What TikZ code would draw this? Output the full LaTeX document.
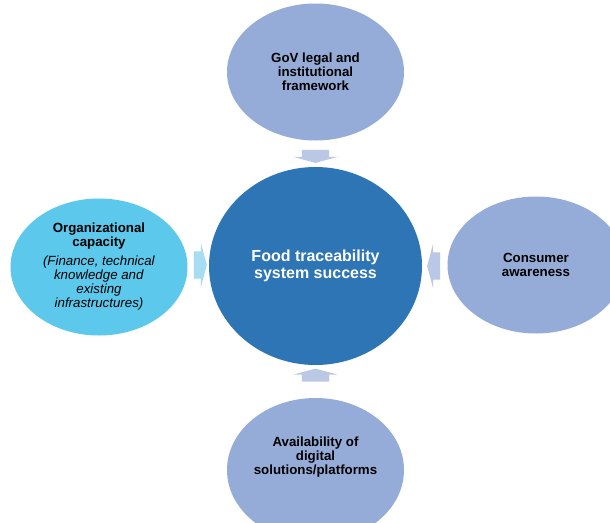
\documentclass[tikz,border=0pt]{standalone}
\usepackage{fontspec}
\setmainfont{Liberation Sans}
\usetikzlibrary{shapes.geometric,shapes.arrows}

\definecolor{coreblue}{HTML}{2E75B6}
\definecolor{outerblue}{HTML}{95ACD8}
\definecolor{orgcyan}{HTML}{5BC8EC}
\definecolor{arrowblue}{HTML}{BAC7E5}
\definecolor{arrowcyan}{HTML}{A6DDF2}

\newcommand{\orgnote}[1]{\textmd{\textit{#1}}}

\begin{document}
\begin{tikzpicture}[x=1pt,y=-1pt]
    \tikzset{
      OuterStyle/.style = { ellipse, fill = outerblue, inner sep = 0pt,
                  minimum width = 177pt, minimum height = 137pt,
                  align = center, font = \bfseries\fontsize{13.3}{14}\selectfont },
      CoreStyle/.style = { ellipse, fill = coreblue, inner sep = 0pt,
                  minimum width = 213pt, minimum height = 198pt,
                  align = center, text = white,
                  font = \bfseries\fontsize{16}{16.7}\selectfont },
      ArrowStyle/.style = { single arrow, fill = arrowblue, inner xsep = 0pt,
                  inner ysep = 13.5pt, minimum height = 13pt,
                  single arrow head extend = 8.5pt, single arrow tip angle = 150,
                  single arrow head indent = 0pt } }
      \clip (0,0) rectangle (610,522);
      \fill[white] (0,0) rectangle (610,522);

      \node[CoreStyle] (core) at (315.5,266) {Food traceability\\system success};

      \node[OuterStyle] (gov) at (315.5,72) {GoV legal and\\institutional\\framework};
      \node[OuterStyle] (consumer) at (536,265) {Consumer\\awareness};
      \node[OuterStyle, fill = orgcyan] (org) at (99,267)
        {Organizational\\capacity\\[5pt]
         \orgnote{(Finance, technical}\\\orgnote{knowledge and}\\
         \orgnote{existing}\\\orgnote{infrastructures)}};
      \node[OuterStyle, minimum height = 144pt] (digital) at (315.5,470) {};
      \node[align = center, font = \bfseries\fontsize{13.3}{14}\selectfont]
        (digitaltext) at (315.5,457) {Availability of\\digital\\solutions/platforms};

      \node[ArrowStyle, rotate = -90] (govarrow) at (315.5,154.5) {};
      \node[ArrowStyle, rotate = 180] (consumerarrow) at (435.5,266) {};
      \node[ArrowStyle, fill = arrowcyan] (orgarrow) at (198.5,265) {};
      \node[ArrowStyle, rotate = 90] (digitalarrow) at (315.5,377) {};
    \end{tikzpicture}
\end{document}
